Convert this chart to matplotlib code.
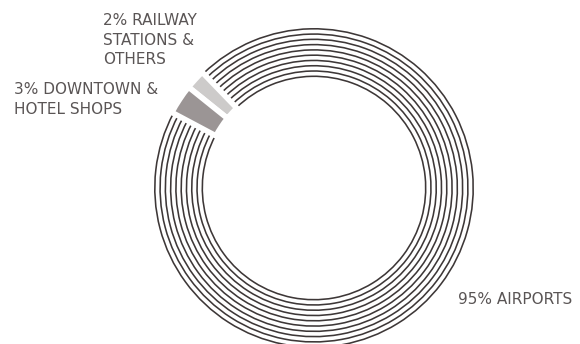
import numpy as np
import matplotlib
matplotlib.use('Agg')
import matplotlib.pyplot as plt

# share of sales by channel
labels = ['95% AIRPORTS', '2% RAILWAY\nSTATIONS &\nOTHERS', '3% DOWNTOWN &\nHOTEL SHOPS']
shares = [95, 2, 3]

# figure in pixel coordinates
W, H = 580, 344
fig = plt.figure(figsize=(W/100, H/100), dpi=100)
ax = fig.add_axes([0, 0, 1, 1])

cx, cy = 314, H - 188
r_in, r_out = 111, 160
n_lines = 10
start = 152

# airports: concentric thin arcs
radii = np.linspace(r_in + 1.5, r_out, n_lines)
for r in radii:
    ax.pie(shares, radius=r, center=(cx, cy), startangle=start, counterclock=True,
           colors=['#3d3737', 'none', 'none'],
           wedgeprops=dict(width=1.6, linewidth=0))

# the two small channels as solid grey blocks
wedges, _ = ax.pie(shares, radius=r_out + 1, center=(cx, cy), startangle=start,
                   counterclock=True, colors=['none', '#cdcbca', '#9b9595'],
                   wedgeprops=dict(width=r_out - r_in + 1, edgecolor='white', linewidth=4))
wedges[0].set_edgecolor('none')

txt = dict(color='#5a5555', fontsize=11, family='DejaVu Sans', linespacing=1.38)
ax.text(103, H - 13, labels[1], ha='left', va='top', **txt)
ax.text(14, H - 82, labels[2], ha='left', va='top', **txt)
ax.text(458, H - 300, labels[0], ha='left', va='center', **txt)

ax.set_xlim(0, W)
ax.set_ylim(0, H)
ax.set_aspect('equal')
ax.axis('off')

plt.savefig('out.png', dpi=100, facecolor='white')
